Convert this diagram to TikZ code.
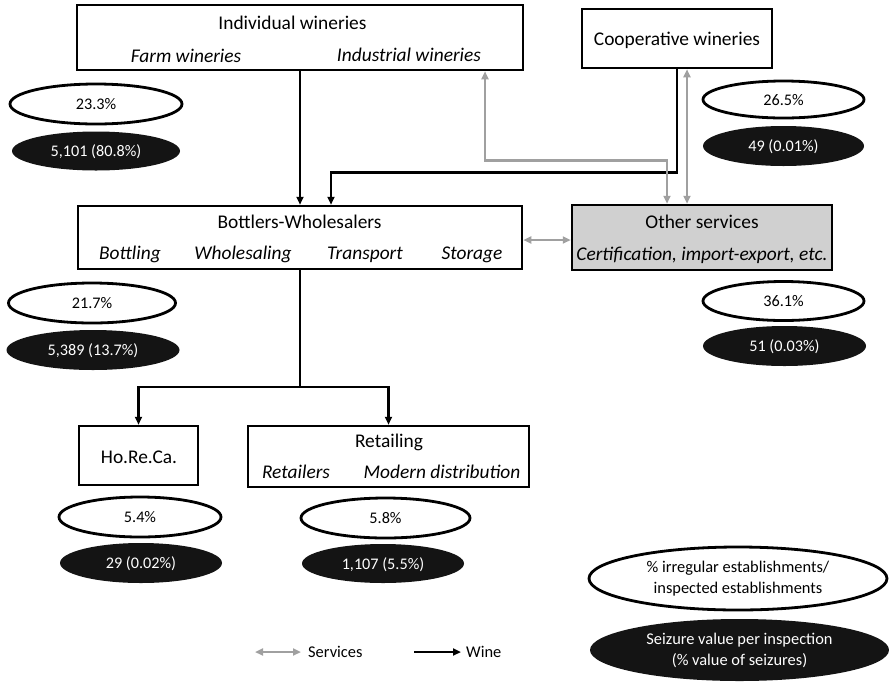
\documentclass[tikz,border=0pt]{standalone}
\usepackage{fontspec}
\setmainfont{Carlito}
\usetikzlibrary{arrows.meta,shapes.geometric}
\definecolor{svc}{HTML}{A0A0A0}
\definecolor{othfill}{HTML}{D0D0D0}
\definecolor{blk}{HTML}{141414}
\begin{document}
\begin{tikzpicture}[x=1pt,y=-1pt,
 box/.style={draw=black,line width=2.5pt,inner sep=0pt},
 boxt/.style={font=\fontsize{19.4}{23}\selectfont,anchor=base,inner sep=0pt},
 boxi/.style={font=\fontsize{19.4}{23}\selectfont\itshape,anchor=base,inner sep=0pt},
 wel/.style={ellipse,draw=black,line width=2.8pt,fill=white,inner sep=0pt,font=\fontsize{16.2}{20}\selectfont,text depth=0pt},
 bel/.style={ellipse,fill=blk,text=white,inner sep=0pt,font=\fontsize{16.2}{20}\selectfont,text depth=0pt},
 lel/.style={ellipse,inner sep=0pt,align=center,font=\fontsize{16.4}{21}\selectfont},
 wine/.style={draw=black,line width=2.5pt,-{Triangle[length=8pt,width=7pt]}},
 trunk/.style={draw=black,line width=2.5pt},
 serv/.style={draw=svc,line width=2.5pt,{Triangle[length=8pt,width=7pt]}-{Triangle[length=8pt,width=7pt]}},
 legt/.style={anchor=west,inner sep=0pt,font=\fontsize{16.4}{20}\selectfont},
]
\useasboundingbox (0,0) rectangle (889,681);

% boxes
\node[box,minimum width=446pt,minimum height=65pt] (ind) at (300,37.5) {};
\node[boxt] (indt) at (292.5,29) {Individual wineries};
\node[boxi] (indf) at (186,62) {Farm wineries};
\node[boxi] (indi) at (409,61) {Industrial wineries};

\node[box,minimum width=190pt,minimum height=59pt] (coop) at (677,38.5) {};
\node[boxt] (coopt) at (677,45) {Cooperative wineries};

\node[box,minimum width=444pt,minimum height=63pt] (bot) at (300,237.5) {};
\node[boxt] (bott) at (299.5,228) {Bottlers-Wholesalers};
\node[boxi] (bot1) at (130,259) {Bottling};
\node[boxi] (bot2) at (243,259) {Wholesaling};
\node[boxi] (bot3) at (365,259) {Transport};
\node[boxi] (bot4) at (472,259) {Storage};

\node[box,fill=othfill,minimum width=260pt,minimum height=65pt] (oth) at (702,237.5) {};
\node[boxt] (otht) at (702,228) {Other services};
\node[boxi] (othi) at (702,260) {Certification, import-export, etc.};

\node[box,minimum width=119pt,minimum height=59pt] (hor) at (138.5,455.5) {};
\node[boxt] (hort) at (139,463) {Ho.Re.Ca.};

\node[box,minimum width=281pt,minimum height=61pt] (ret) at (388.5,456.5) {};
\node[boxt] (rett) at (389,447) {Retailing};
\node[boxi] (ret1) at (296,478) {Retailers};
\node[boxi] (ret2) at (442,478) {Modern distribution};

% ellipses
\node[wel,minimum width=172pt,minimum height=40pt] (e1w) at (96,104) {23.3\%};
\node[bel,minimum width=168pt,minimum height=39pt] (e1b) at (96,151) {5,101 (80.8\%)};
\node[wel,minimum width=161pt,minimum height=37pt] (e2w) at (783.5,99.5) {26.5\%};
\node[bel,minimum width=161pt,minimum height=40pt] (e2b) at (783.5,146) {49 (0.01\%)};
\node[wel,minimum width=167pt,minimum height=40pt] (e3w) at (92,303) {21.7\%};
\node[bel,minimum width=173pt,minimum height=40pt] (e3b) at (93,350) {5,389 (13.7\%)};
\node[wel,minimum width=161pt,minimum height=39pt] (e4w) at (783.5,301) {36.1\%};
\node[bel,minimum width=163pt,minimum height=40pt] (e4b) at (784.5,346) {51 (0.03\%)};
\node[wel,minimum width=162pt,minimum height=40pt] (e5w) at (140,517) {5.4\%};
\node[bel,minimum width=162pt,minimum height=40pt] (e5b) at (141,563) {29 (0.02\%)};
\node[wel,minimum width=169pt,minimum height=40pt] (e6w) at (385.5,518) {5.8\%};
\node[bel,minimum width=162pt,minimum height=39pt] (e6b) at (383,563.5) {1,107 (5.5\%)};

% legend ellipses
\node[lel,draw=black,line width=2.8pt,fill=white,minimum width=298pt,minimum height=63pt] (lw) at (738,578.5) {\% irregular establishments/\\inspected establishments};
\node[lel,fill=blk,text=white,minimum width=299pt,minimum height=62pt] (lb) at (739.5,650) {Seizure value per inspection\\(\% value of seizures)};

% connectors
\draw[wine] (ind.south) -- (bot.north);
\draw[wine] (coop.south) -- ++(0,103) -| ([xshift=31pt]bot.north);
\draw[serv] ([xshift=185pt]ind.south) -- ++(0,89) -| ([xshift=-35pt]oth.north);
\draw[serv] ([xshift=10pt]coop.south) -- ([xshift=-15pt]oth.north);
\draw[serv] ([yshift=-2.5pt]bot.east) -- ([yshift=-2.5pt]oth.west);
\coordinate (split) at (300,387);
\draw[trunk] (bot.south) -- (split);
\draw[wine] (split) -| (hor.north);
\draw[wine] (split) -| (ret.north);

% legend
\coordinate (ls1) at (255,652);
\coordinate (ls2) at (301,652);
\coordinate (lw1) at (414,652);
\coordinate (lw2) at (461,652);
\draw[serv] (ls1) -- (ls2);
\draw[wine] (lw1) -- (lw2);
\node[legt] (lst) at (308,652) {Services};
\node[legt] (lwt) at (466,652) {Wine};
\end{tikzpicture}
\end{document}
